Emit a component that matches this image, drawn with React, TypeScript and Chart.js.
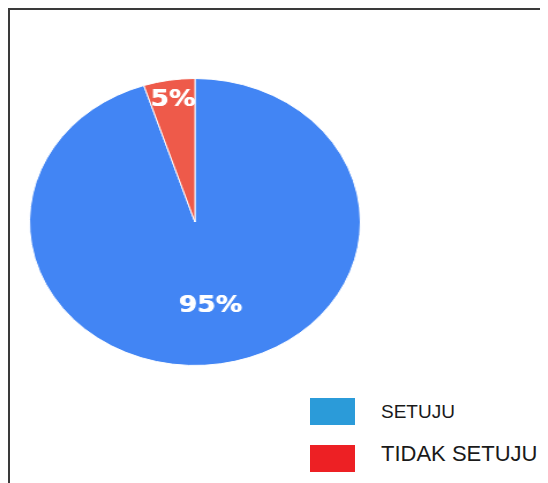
import React, { useEffect, useRef } from "react";
import { Chart, registerables } from "chart.js";

Chart.register(...registerables);

const categories = ["SETUJU", "TIDAK SETUJU"];
const values = [95, 5];
const sliceLabels = ["95%", "5%"];
const sliceColors = ["#4285F4", "#EE5A4A"];
const legendColors = ["#2B9BD9", "#ED2024"];

const labelPlugin = {
  id: "sliceLabels",
  afterDatasetsDraw(chart: any, _args: any, opts: any) {
    const ctx = chart.ctx;
    const meta = chart.getDatasetMeta(0);
    ctx.save();
    ctx.fillStyle = "#ffffff";
    ctx.font = "bold 23px 'DejaVu Sans', sans-serif";
    ctx.textAlign = "center";
    ctx.textBaseline = "middle";
    meta.data.forEach((arc: any, i: number) => {
      const p = arc.getProps(["x", "y", "startAngle", "endAngle", "outerRadius"], true);
      const mid = (p.startAngle + p.endAngle) / 2;
      const r = p.outerRadius * (opts.radii[i] ?? 0.6);
      const x = p.x + Math.cos(mid) * r;
      const y = p.y + Math.sin(mid) * r;
      ctx.fillText(sliceLabels[i], x, y);
      ctx.fillText(sliceLabels[i], x + 0.6, y);
    });
    ctx.restore();
  },
};

function PieChart() {
  const ref = useRef<HTMLCanvasElement>(null);
  useEffect(() => {
    if (!ref.current) return;
    const chart = new Chart(ref.current, {
      type: "pie",
      data: {
        labels: categories,
        datasets: [
          {
            data: values,
            backgroundColor: sliceColors,
            borderColor: "#ffffff",
            borderWidth: 1,
          },
        ],
      },
      options: {
        responsive: false,
        animation: false,
        radius: 143.5,
        layout: { padding: 0 },
        plugins: {
          legend: { display: false },
          tooltip: { enabled: false },
          sliceLabels: { radii: [0.59, 0.86] },
        } as any,
      },
      plugins: [labelPlugin],
    });
    return () => chart.destroy();
  }, []);
  return <canvas ref={ref} width={300} height={300} style={{ display: "block" }} />;
}

export default function App() {
  const legendFont = ["19px", "22px"];
  const legendTops = [391.9, 433.1];
  const boxTops = [388, 435];
  return (
    <div
      style={{
        position: "relative",
        width: 540,
        height: 475,
        boxSizing: "border-box",
        borderTop: "2px solid #3a3a3a",
        borderLeft: "2px solid #3a3a3a",
        background: "#fff",
        overflow: "hidden",
      }}
    >
      <div
        style={{
          position: "absolute",
          left: 11.5,
          top: 61.5,
          width: 300,
          height: 300,
          transform: "scaleX(1.153)",
          transformOrigin: "0 0",
        }}
      >
        <PieChart />
      </div>
      {categories.map((c, i) => (
        <React.Fragment key={c}>
          <div
            style={{
              position: "absolute",
              left: 300,
              top: boxTops[i],
              width: 45,
              height: 27,
              background: legendColors[i],
            }}
          />
          <div
            style={{
              position: "absolute",
              left: 371,
              top: legendTops[i],
              fontFamily: "'Liberation Sans', Arial, sans-serif",
              fontSize: legendFont[i],
              lineHeight: 1,
              color: "#1a1a1a",
              whiteSpace: "nowrap",
            }}
          >
            {c}
          </div>
        </React.Fragment>
      ))}
    </div>
  );
}
